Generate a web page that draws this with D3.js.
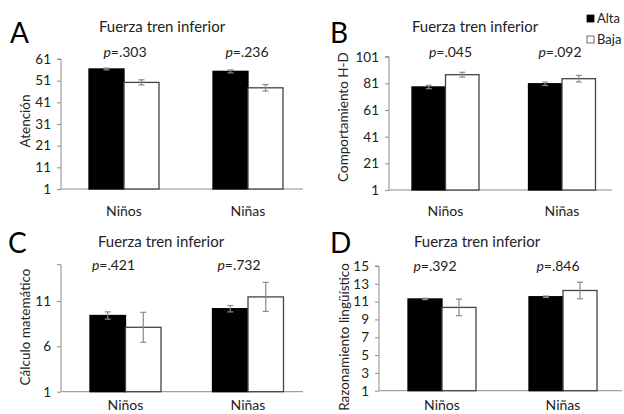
<!DOCTYPE html>
<html><head><meta charset="utf-8">
<script src="https://cdn.jsdelivr.net/npm/d3@7"></script>
<style>
body{margin:0;background:#fff;}
svg{display:block;font-family:Lato, "Open Sans", sans-serif;}
</style></head>
<body><svg id="c" width="624" height="414"></svg>
<script>
// ---- data ----
const categories = ["Niños", "Niñas"];
const series = ["Alta", "Baja"];
const chartTitle = "Fuerza tren inferior";
const panelLetters = ["A", "B", "C", "D"];
const yLabels = ["Atención", "Comportamiento H-D", "Cálculo matemático", "Razonamiento lingüístico"];
// values [Niños, Niñas]
const atencionAlta = [56.4, 55.3];
const atencionBaja = [50.2, 47.7];
const atencionAltaErr = [0.4, 0.7];
const atencionBajaErr = [1.2, 1.5];
const comportAlta = [78.3, 80.7];
const comportBaja = [87.5, 84.5];
const comportAltaErr = [1.3, 1.3];
const comportBajaErr = [1.8, 2.5];
const calculoAlta = [9.4, 10.15];
const calculoBaja = [8.1, 11.45];
const calculoAltaErr = [0.4, 0.35];
const calculoBajaErr = [1.65, 1.6];
const razonAlta = [11.3, 11.55];
const razonBaja = [10.35, 12.25];
const razonAltaErr = [0.08, 0.08];
const razonBajaErr = [0.93, 0.93];
const atencionTicks = [1, 11, 21, 31, 41, 51, 61];
const comportTicks = [1, 21, 41, 61, 81, 101];
const calculoTicks = [1, 6, 11];
const razonTicks = [1, 3, 5, 7, 9, 11, 13, 15];
const atencionP = ["=.303", "=.236"];
const comportP = ["=.045", "=.092"];
const calculoP = ["=.421", "=.732"];
const razonP = ["=.392", "=.846"];

// ---- layout ----
const panels = [
  {alta: atencionAlta, baja: atencionBaja, altaErr: atencionAltaErr, bajaErr: atencionBajaErr, ticks: atencionTicks, p: atencionP,
   domain: [1, 61], axisX: 61, axisEnd: 303, yTop: 59, yBottom: 189, centers: [124, 248], bw: 70, pDx: [1, -1], pY: 57,
   titleX: 162, titleY: 32, letterX: 10, letterY: 43, yLabX: 25, yLabY: 121, catY: 216},
  {alta: comportAlta, baja: comportBaja, altaErr: comportAltaErr, bajaErr: comportBajaErr, ticks: comportTicks, p: comportP,
   domain: [1, 101], axisX: 389, axisEnd: 612, yTop: 56.7, yBottom: 190, centers: [445.5, 562], bw: 67, pDx: [5, -2], pY: 57,
   titleX: 475, titleY: 32, letterX: 330, letterY: 43, yLabX: 343, yLabY: 117, catY: 216},
  {alta: calculoAlta, baja: calculoBaja, altaErr: calculoAltaErr, bajaErr: calculoBajaErr, ticks: calculoTicks, p: calculoP,
   domain: [1, 15], axisX: 61, axisEnd: 303, yTop: 264.7, yBottom: 391.7, centers: [125.5, 248], bw: 71, pDx: [-12, -9], pY: 270,
   titleX: 161, titleY: 247, letterX: 8, letterY: 253, yLabX: 25, yLabY: 327, catY: 410},
  {alta: razonAlta, baja: razonBaja, altaErr: razonAltaErr, bajaErr: razonBajaErr, ticks: razonTicks, p: razonP,
   domain: [1, 15], axisX: 379, axisEnd: 622, yTop: 266, yBottom: 390.7, centers: [442, 563], bw: 68, pDx: [-7, -5], pY: 271,
   titleX: 477, titleY: 247, letterX: 330, letterY: 253, yLabX: 344, yLabY: 337, catY: 410}
];

const svg = d3.select("#c");
const axisColor = "#8c8c8c";

panels.forEach((P, i) => {
  const g = svg.append("g");
  const step = P.centers[1] - P.centers[0];
  const pIn = 1 - P.bw / step;
  const x0 = d3.scaleBand().domain(categories)
    .range([P.centers[0] - step / 2, P.centers[1] + step / 2])
    .paddingInner(pIn).paddingOuter(pIn / 2);
  const x1 = d3.scaleBand().domain(series).range([0, x0.bandwidth()]);
  const y = d3.scaleLinear().domain(P.domain).range([P.yBottom, P.yTop]);

  // y axis
  const ya = g.append("g").attr("transform", `translate(${P.axisX},0)`)
    .call(d3.axisLeft(y).tickValues(P.ticks).tickSize(4).tickPadding(6).tickFormat(d3.format("d")));
  ya.select(".domain").attr("stroke", axisColor).attr("d", `M-4,${y(P.domain[1])}H0V${P.yBottom}`);
  ya.selectAll(".tick line").attr("stroke", axisColor);
  ya.selectAll(".tick text").attr("font-size", 13.5).attr("fill", "#222").attr("font-family", "Lato");

  // x baseline
  g.append("line").attr("x1", P.axisX).attr("x2", P.axisEnd).attr("y1", P.yBottom).attr("y2", P.yBottom)
    .attr("stroke", axisColor);

  const rows = [];
  categories.forEach((c, k) => {
    rows.push({cat: c, s: "Alta", v: P.alta[k], e: P.altaErr[k]});
    rows.push({cat: c, s: "Baja", v: P.baja[k], e: P.bajaErr[k]});
  });
  g.selectAll("rect.bar").data(rows).join("rect")
    .attr("x", d => x0(d.cat) + x1(d.s))
    .attr("y", d => y(d.v))
    .attr("width", x1.bandwidth())
    .attr("height", d => P.yBottom - y(d.v))
    .attr("fill", d => d.s === "Alta" ? "#000" : "#fff")
    .attr("stroke", d => d.s === "Alta" ? "#000" : "#444")
    .attr("stroke-width", 1.3);

  // error bars
  const eb = g.selectAll("g.err").data(rows).join("g")
    .attr("transform", d => `translate(${x0(d.cat) + x1(d.s) + x1.bandwidth() / 2},0)`);
  eb.append("line").attr("y1", d => y(d.v - d.e)).attr("y2", d => y(d.v + d.e))
    .attr("stroke", "#8a8a8a").attr("stroke-width", 1.2);
  eb.append("line").attr("x1", -3).attr("x2", 3).attr("y1", d => y(d.v + d.e)).attr("y2", d => y(d.v + d.e))
    .attr("stroke", "#8a8a8a").attr("stroke-width", 1.2);
  eb.append("line").attr("x1", -3).attr("x2", 3).attr("y1", d => y(d.v - d.e)).attr("y2", d => y(d.v - d.e))
    .attr("stroke", "#8a8a8a").attr("stroke-width", 1.2);

  // category labels
  g.selectAll("text.cat").data(categories).join("text")
    .attr("x", d => x0(d) + x0.bandwidth() / 2).attr("y", P.catY)
    .attr("text-anchor", "middle").attr("font-size", 14).attr("fill", "#222").text(d => d);

  // p labels
  categories.forEach((c, k) => {
    const t = g.append("text").attr("x", x0(c) + x0.bandwidth() / 2 + P.pDx[k]).attr("y", P.pY)
      .attr("text-anchor", "middle").attr("font-size", 14).attr("fill", "#222");
    t.append("tspan").attr("font-style", "italic").text("p");
    t.append("tspan").text(P.p[k]);
  });

  // title
  g.append("text").attr("x", P.titleX).attr("y", P.titleY).attr("text-anchor", "middle")
    .attr("font-size", 15).attr("fill", "#222").text(chartTitle);
  // letter
  g.append("text").attr("x", P.letterX).attr("y", P.letterY).attr("font-size", 28).attr("fill", "#000")
    .text(panelLetters[i]);
  // y label
  g.append("text").attr("transform", `translate(${P.yLabX},${P.yLabY}) rotate(-90)`)
    .attr("text-anchor", "middle").attr("dominant-baseline", "central")
    .attr("font-size", 13.5).attr("fill", "#222").text(yLabels[i]);
});

// legend
const leg = svg.append("g");
series.forEach((s, k) => {
  leg.append("rect").attr("x", 587).attr("y", 15 + k * 21).attr("width", 7).attr("height", 7)
    .attr("fill", s === "Alta" ? "#000" : "#fff").attr("stroke", s === "Alta" ? "#000" : "#444").attr("stroke-width", 0.8);
  leg.append("text").attr("x", 597).attr("y", 23 + k * 21).attr("font-size", 13).attr("fill", "#222").text(s);
});
</script></body></html>
